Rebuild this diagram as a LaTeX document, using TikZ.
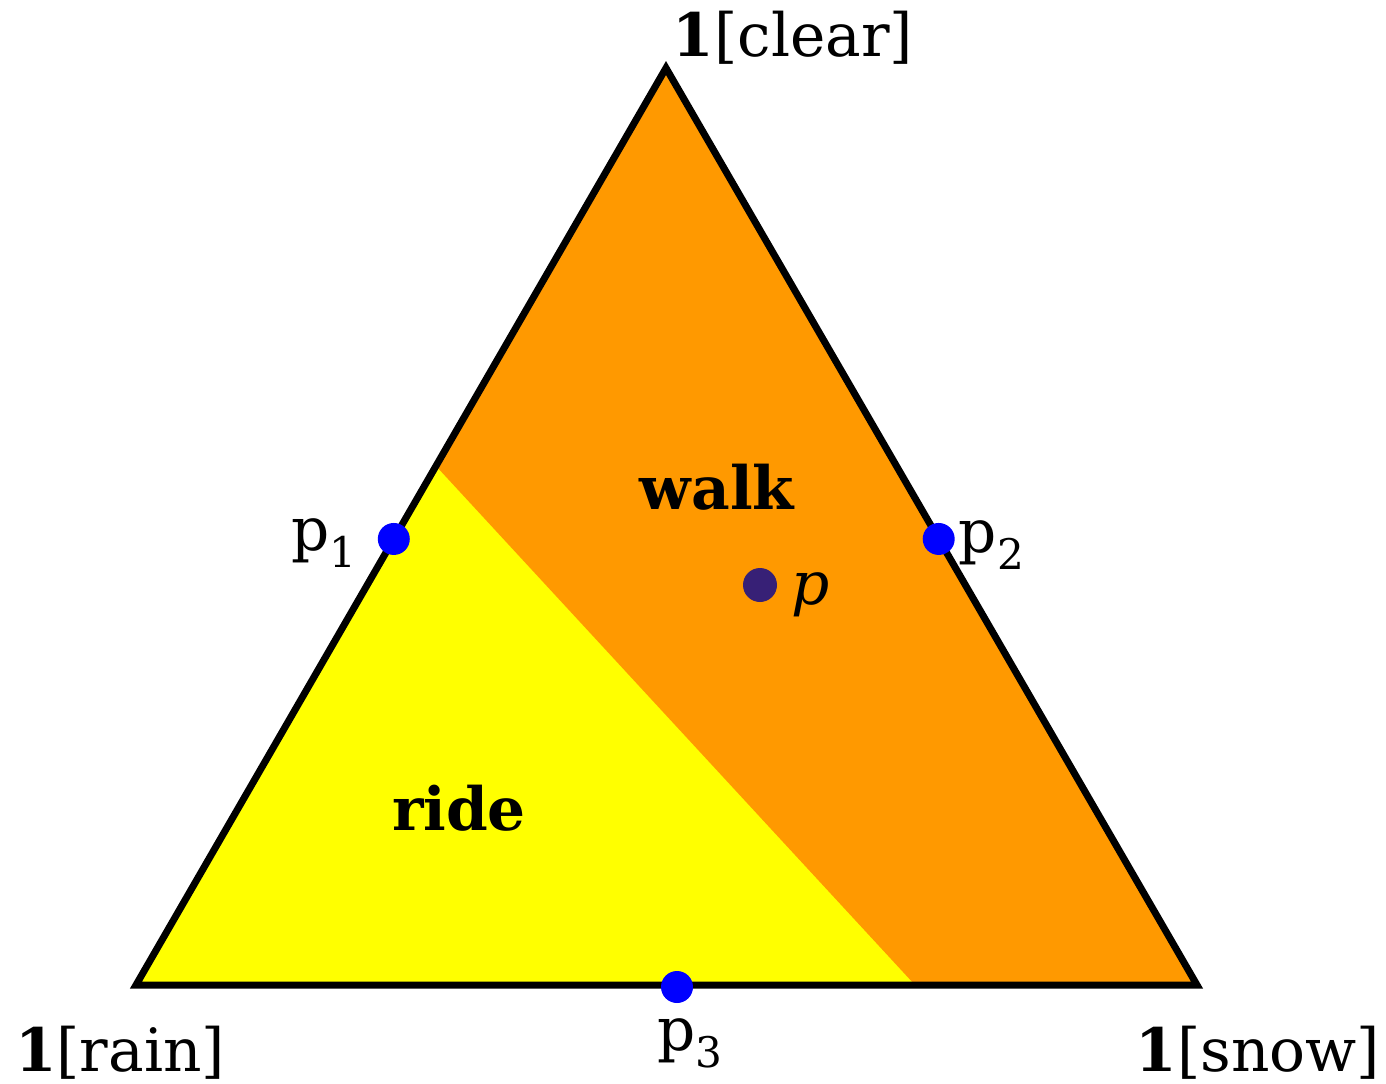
\documentclass[tikz,border=0pt]{standalone}
\usepackage{fontspec}
\setmainfont{DejaVu Serif}
\usetikzlibrary{calc,positioning}
\definecolor{walkorange}{RGB}{255,153,0}
\definecolor{rideyellow}{RGB}{255,255,0}
\definecolor{ptblue}{RGB}{0,0,255}
\definecolor{ptpurple}{RGB}{55,32,118}
\newcommand{\lowsub}[1]{\raisebox{-0.55ex}{\fontsize{12}{12}\selectfont #1}}

\begin{document}
\begin{tikzpicture}[
    x=0.1mm, y=-0.1mm,
    corner/.style={font=\fontsize{17}{20}\selectfont, inner sep=0pt},
    region/.style={font=\fontsize{17}{20}\selectfont\bfseries, inner sep=0pt},
    dot/.style={circle, fill=ptblue, minimum size=3.2mm, inner sep=0pt},
    ptlabel/.style={font=\fontsize{17}{20}\selectfont, inner sep=0pt},
    edge/.style={line width=0.7mm, line join=miter}
]
\useasboundingbox (0,0) rectangle (1386,1084);

\coordinate (clear) at (666,68);
\coordinate (rain) at (136,985);
\coordinate (snow) at (1197,985);
\coordinate (cutl) at ($(clear)!0.434!(rain)$);
\coordinate (cutb) at (915,985);

% regions
\fill[rideyellow] (clear) -- (rain) -- (snow) -- cycle;
\fill[walkorange] (clear) -- (cutl) -- (cutb) -- (snow) -- cycle;
\draw[edge] (clear) -- (rain) -- (snow) -- cycle;

\node[region] (walk) at (717,487) {walk};
\node[region] (ride) at (459,808) {ride};

% corner labels
\node[corner] (lclear) at (793,38) {\textbf{1}[clear]};
\node[corner] (lrain) at (120,1053) {\textbf{1}[rain]};
\node[corner] (lsnow) at (1258,1053) {\textbf{1}[snow]};

% points
\node[dot] (p1) at ($(clear)!0.5136!(rain)$) {};
\node[dot] (p2) at ($(clear)!0.5136!(snow)$) {};
\node[dot] (p3) at (677,987) {};
\node[dot, fill=ptpurple, minimum size=3.4mm] (p) at (760,585) {};

\node[ptlabel, left=5.3mm of p1, anchor=center, yshift=-0.4mm] (lp1) {p\lowsub{1}};
\node[ptlabel, right=3.6mm of p2, anchor=center, yshift=-0.6mm] (lp2) {p\lowsub{2}};
\node[ptlabel, below=4.0mm of p3, anchor=center, xshift=1.3mm] (lp3) {p\lowsub{3}};
\node[ptlabel, right=3.3mm of p, anchor=center, yshift=-1mm] (lp) {\textit{p}};
\end{tikzpicture}
\end{document}
